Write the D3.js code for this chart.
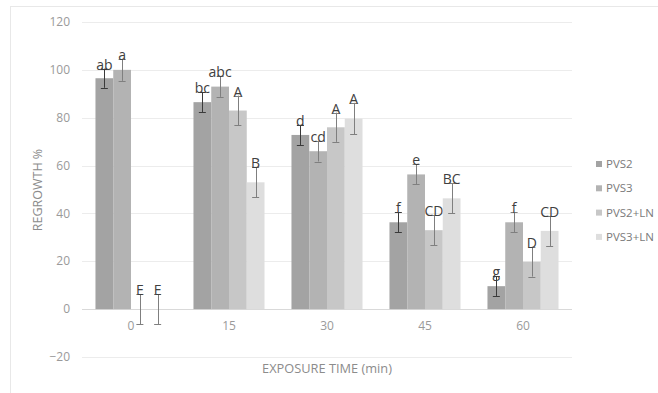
<!DOCTYPE html>
<meta charset="utf-8">
<head>
    <script src="https://d3js.org/d3.v7.min.js"></script>
</head>
<body style="margin:0; background:#fff;">
    <div id="svg_div"></div>
</body>
<script>
    // chart data
    var categories = ["0", "15", "30", "45", "60"];
    var series_names = ["PVS2", "PVS3", "PVS2+LN", "PVS3+LN"];
    var pvs2 = [96.5, 86.5, 72.8, 36.3, 9.6];
    var pvs3 = [100, 93, 66, 56.3, 36.3];
    var pvs2_ln = [0, 83, 76, 33, 19.8];
    var pvs3_ln = [0, 53, 79.6, 46.3, 32.7];
    var pvs2_err = [4, 4.3, 4.2, 4.2, 4.1];
    var pvs3_err = [4.6, 4.3, 4.3, 4.2, 4.2];
    var pvs2_ln_err = [6.3, 6.2, 6.1, 6.4, 6.2];
    var pvs3_ln_err = [6.3, 6.2, 6.6, 6.3, 6.3];
    var pvs2_lbl = ["ab", "bc", "d", "f", "g"];
    var pvs3_lbl = ["a", "abc", "cd", "e", "f"];
    var pvs2_ln_lbl = ["E", "A", "A", "CD", "D"];
    var pvs3_ln_lbl = ["E", "B", "A", "BC", "CD"];
    var y_ticks = [-20, 0, 20, 40, 60, 80, 100, 120];

    var colors = ["#a3a3a3", "#b3b3b3", "#c7c7c7", "#dedede"];
    var err_colors = ["#3a3a3a", "#7f7f7f", "#7f7f7f", "#7f7f7f"];

    var values = [pvs2, pvs3, pvs2_ln, pvs3_ln];
    var errs = [pvs2_err, pvs3_err, pvs2_ln_err, pvs3_ln_err];
    var labels = [pvs2_lbl, pvs3_lbl, pvs2_ln_lbl, pvs3_ln_lbl];

    function draw_chart() {
        let width = 658, height = 393;
        let font = "'Open Sans', 'DejaVu Sans', sans-serif";

        let svg = d3.select("#svg_div").append("svg")
            .attr("width", width)
            .attr("height", height)
            .style("display", "block");

        // chart frame (top + left edges visible)
        svg.append("line").attr("x1", 10).attr("x2", width).attr("y1", 6.5).attr("y2", 6.5)
            .attr("stroke", "#e8e8e8");
        svg.append("line").attr("x1", 10.5).attr("x2", 10.5).attr("y1", 6).attr("y2", height)
            .attr("stroke", "#e8e8e8");

        let x = d3.scaleBand()
            .domain(categories)
            .range([82, 572])
            .paddingInner(0.275)
            .paddingOuter(0.1375);

        let x_inner = d3.scaleBand()
            .domain(series_names)
            .range([0, x.bandwidth()]);

        let y = d3.scaleLinear()
            .domain([-20, 120])
            .range([357, 22]);

        // grid lines
        svg.append("g")
            .selectAll("line")
            .data(y_ticks)
            .enter().append("line")
            .attr("x1", 82).attr("x2", 572)
            .attr("y1", d => Math.round(y(d)) + 0.5)
            .attr("y2", d => Math.round(y(d)) + 0.5)
            .attr("stroke", d => d === 0 ? "#d9d9d9" : "#ececec")
            .attr("stroke-width", 1);

        // y tick labels
        svg.append("g")
            .selectAll("text")
            .data(y_ticks)
            .enter().append("text")
            .attr("x", 70)
            .attr("y", d => y(d))
            .attr("dy", "0.35em")
            .attr("text-anchor", "end")
            .style("font-family", font)
            .style("font-size", "12px")
            .attr("fill", "#9a9a9a")
            .text(d => d < 0 ? "\u2212" + Math.abs(d) : d);

        // x tick labels
        svg.append("g")
            .selectAll("text")
            .data(categories)
            .enter().append("text")
            .attr("x", d => x(d) + x.bandwidth() / 2)
            .attr("y", 326)
            .attr("dy", "0.35em")
            .attr("text-anchor", "middle")
            .style("font-family", font)
            .style("font-size", "12px")
            .attr("fill", "#9a9a9a")
            .text(d => d);

        // bars, error bars, letters
        series_names.forEach((name, si) => {
            let g = svg.append("g");
            let rows = categories.map((c, ci) => ({
                cat: c, value: values[si][ci], err: errs[si][ci], label: labels[si][ci]
            }));
            let cx = d => x(d.cat) + x_inner(name) + x_inner.bandwidth() / 2;

            g.selectAll("rect")
                .data(rows)
                .enter().append("rect")
                .attr("x", d => x(d.cat) + x_inner(name))
                .attr("y", d => y(Math.max(d.value, 0)))
                .attr("width", x_inner.bandwidth())
                .attr("height", d => Math.abs(y(d.value) - y(0)))
                .attr("fill", colors[si]);

            let eg = g.selectAll(".err")
                .data(rows)
                .enter().append("g")
                .attr("stroke", err_colors[si])
                .attr("stroke-width", 1);
            eg.append("line")
                .attr("x1", d => Math.round(cx(d)) + 0.5).attr("x2", d => Math.round(cx(d)) + 0.5)
                .attr("y1", d => y(d.value + d.err)).attr("y2", d => y(d.value - d.err));
            eg.append("line")
                .attr("x1", d => cx(d) - 3.5).attr("x2", d => cx(d) + 3.5)
                .attr("y1", d => Math.round(y(d.value + d.err)) + 0.5)
                .attr("y2", d => Math.round(y(d.value + d.err)) + 0.5);
            eg.append("line")
                .attr("x1", d => cx(d) - 3.5).attr("x2", d => cx(d) + 3.5)
                .attr("y1", d => Math.round(y(d.value - d.err)) + 0.5)
                .attr("y2", d => Math.round(y(d.value - d.err)) + 0.5);

            g.selectAll(".lbl")
                .data(rows)
                .enter().append("text")
                .attr("x", cx)
                .attr("y", d => y(d.value + d.err) + 1)
                .attr("text-anchor", "middle")
                .style("font-family", font)
                .style("font-size", "14px")
                .attr("fill", "#404040")
                .text(d => d.label);
        });

        // axis titles
        svg.append("text")
            .attr("transform", "translate(42,190) rotate(-90)")
            .attr("text-anchor", "middle")
            .style("font-family", font)
            .style("font-size", "12.5px")
            .attr("fill", "#8c8c8c")
            .text("REGROWTH %");

        svg.append("text")
            .attr("x", 327)
            .attr("y", 369)
            .attr("dy", "0.35em")
            .attr("text-anchor", "middle")
            .style("font-family", font)
            .style("font-size", "12.8px")
            .attr("fill", "#8c8c8c")
            .text("EXPOSURE TIME (min)");

        // legend
        let legend = svg.append("g")
            .selectAll("g")
            .data(series_names)
            .enter().append("g")
            .attr("transform", (d, i) => "translate(596," + (164 + i * 24.3) + ")");
        legend.append("rect")
            .attr("x", 0).attr("y", -3)
            .attr("width", 6).attr("height", 6)
            .attr("fill", (d, i) => colors[i]);
        legend.append("text")
            .attr("x", 10)
            .attr("dy", "0.35em")
            .style("font-family", font)
            .style("font-size", "11.5px")
            .attr("fill", "#7a7a7a")
            .text(d => d);
    }

    draw_chart();
</script>
